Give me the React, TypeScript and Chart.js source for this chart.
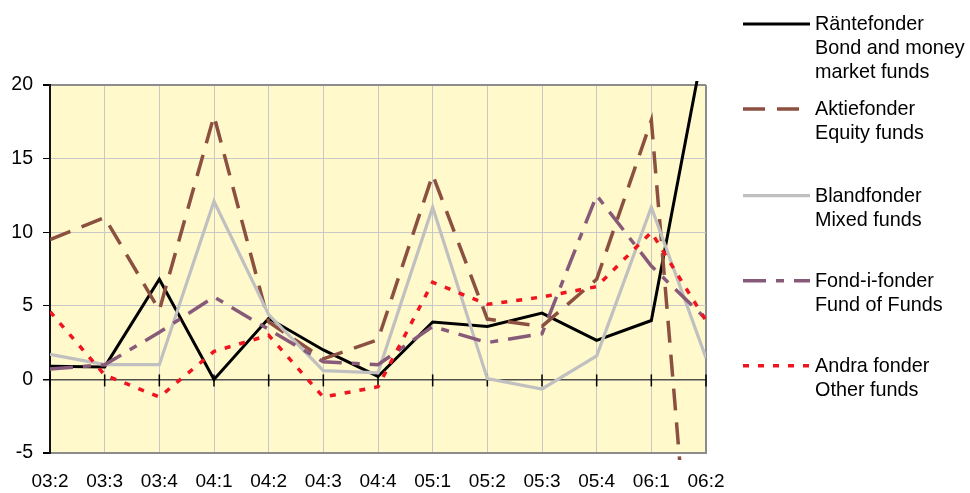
import React, { useEffect, useRef } from "react";
import { Chart, registerables } from "chart.js";

Chart.register(...registerables);

const categories = ["03:2", "03:3", "03:4", "04:1", "04:2", "04:3", "04:4", "05:1", "05:2", "05:3", "05:4", "06:1", "06:2"];

const ranteFonder = [0.9, 0.85, 6.8, 0.0, 4.15, 2.0, 0.2, 3.9, 3.6, 4.5, 2.65, 4.0, 23.5];
const aktieFonder = [9.5, 11.0, 4.7, 17.9, 3.9, 1.4, 2.7, 13.9, 4.1, 3.6, 6.8, 17.6, -27];
const blandFonder = [1.7, 1.0, 1.0, 12.1, 4.4, 0.6, 0.45, 11.7, 0.05, -0.65, 1.6, 11.7, 1.45];
const fondIFonder = [0.7, 1.0, 3.2, 5.6, 3.4, 1.2, 1.0, 3.6, 2.5, 3.1, 12.5, 7.7, 4.1];
const andraFonder = [4.6, 0.3, -1.2, 1.9, 3.0, -1.2, -0.5, 6.6, 5.1, 5.6, 6.3, 10.0, 4.0];

const yTicks = [-5, 0, 5, 10, 15, 20];

const seriesLabels = [
  ["Räntefonder", "Bond and money", "market funds"],
  ["Aktiefonder", "Equity funds"],
  ["Blandfonder", "Mixed funds"],
  ["Fond-i-fonder", "Fund of Funds"],
  ["Andra fonder", "Other funds"],
];

const FONT = "'Liberation Sans', Arial, sans-serif";

const styles = [
  { color: "#000000", dash: [] as number[], width: 3 },
  { color: "#8c5040", dash: [22, 12], width: 3.5 },
  { color: "#c0c0c0", dash: [] as number[], width: 3.2 },
  { color: "#885a7a", dash: [23, 10, 8, 10], width: 3.5 },
  { color: "#f01420", dash: [6, 9], width: 3.5 },
];

const legendRows = [30, 115, 201.7, 286.7, 371.7];

const bgPlugin = {
  id: "plotBg",
  beforeDraw(chart: any) {
    const { ctx, chartArea } = chart;
    ctx.save();
    ctx.fillStyle = "#fff9cc";
    ctx.fillRect(chartArea.left, chartArea.top, chartArea.right - chartArea.left, chartArea.bottom - chartArea.top);
    ctx.restore();
  },
};

const zeroTicksPlugin = {
  id: "zeroTicks",
  beforeDatasetsDraw(chart: any) {
    const { ctx } = chart;
    const x = chart.scales.x;
    const y0 = chart.scales.y.getPixelForValue(0);
    ctx.save();
    ctx.strokeStyle = "#000";
    ctx.lineWidth = 1.5;
    categories.forEach((_, i) => {
      const px = x.getPixelForValue(i);
      ctx.beginPath();
      ctx.moveTo(px, y0 - 5);
      ctx.lineTo(px, y0 + 7);
      ctx.stroke();
    });
    ctx.restore();
  },
};

const legendPlugin = {
  id: "sideLegend",
  afterDraw(chart: any) {
    const { ctx } = chart;
    ctx.save();
    ctx.font = `19.8px ${FONT}`;
    ctx.fillStyle = "#000";
    ctx.textAlign = "left";
    ctx.textBaseline = "alphabetic";
    seriesLabels.forEach((lines, i) => {
      const base = legendRows[i];
      const st = styles[i];
      ctx.strokeStyle = st.color;
      ctx.lineWidth = st.width;
      ctx.setLineDash(st.dash);
      ctx.beginPath();
      ctx.moveTo(743, base - 6);
      ctx.lineTo(810, base - 6);
      ctx.stroke();
      ctx.setLineDash([]);
      lines.forEach((t, j) => {
        ctx.fillText(t, 815, base + j * 24);
      });
    });
    ctx.restore();
  },
};

export default function App() {
  const ref = useRef<HTMLCanvasElement | null>(null);

  useEffect(() => {
    if (!ref.current) return;
    const allSeries = [ranteFonder, aktieFonder, blandFonder, fondIFonder, andraFonder];
    const chart = new Chart(ref.current, {
      type: "line",
      data: {
        labels: categories,
        datasets: allSeries.map((d, i) => ({
          label: seriesLabels[i][0],
          data: d,
          borderColor: styles[i].color,
          borderWidth: styles[i].width,
          borderDash: styles[i].dash,
          pointRadius: 0,
          tension: 0,
          fill: false,
          order: allSeries.length - i,
          clip: { left: 0, right: 0, top: 4, bottom: 7 } as any,
        })),
      },
      options: {
        animation: false,
        responsive: false,
        maintainAspectRatio: false,
        layout: { padding: { left: 0, top: 85, right: 264, bottom: 0 } },
        plugins: {
          legend: { display: false },
          tooltip: { enabled: false },
        },
        scales: {
          x: {
            type: "category",
            offset: false,
            grid: {
              color: (c: any) => (c.index === categories.length - 1 ? "#8c8c8c" : "#c8c8c8"),
              lineWidth: (c: any) => (c.index === categories.length - 1 ? 2 : 1),
              drawTicks: false,
            },
            border: { display: true, color: "#8c8c8c", width: 2 },
            ticks: {
              color: "#000",
              font: { family: FONT, size: 19 },
              padding: 17,
              maxRotation: 0,
              autoSkip: false,
            },
            afterFit: (s: any) => {
              s.height = 40;
            },
          },
          y: {
            min: yTicks[0],
            max: yTicks[yTicks.length - 1],
            afterBuildTicks: (s: any) => {
              s.ticks = yTicks.map((v) => ({ value: v }));
            },
            grid: {
              color: (c: any) => {
                const v = c.tick && c.tick.value;
                if (v === 0) return "#505050";
                if (v === 20 || v === -5) return "#8c8c8c";
                return "#c8c8c8";
              },
              lineWidth: (c: any) => {
                const v = c.tick && c.tick.value;
                if (v === 0) return 1.5;
                if (v === 20 || v === -5) return 2;
                return 1;
              },
              tickLength: 7,
              tickColor: "#000",
              drawTicks: true,
            },
            border: { display: true, color: "#111", width: 2 },
            ticks: {
              color: "#000",
              font: { family: FONT, size: 19.5 },
              padding: 10,
            },
            afterFit: (s: any) => {
              s.width = 50;
            },
          },
        },
      },
      plugins: [bgPlugin, zeroTicksPlugin, legendPlugin],
    });
    return () => chart.destroy();
  }, []);

  return (
    <div style={{ position: "absolute", left: 0, top: 0, width: 970, height: 493, background: "#fff" }}>
      <canvas ref={ref} width={970} height={493} style={{ width: 970, height: 493, display: "block" }} />
    </div>
  );
}
